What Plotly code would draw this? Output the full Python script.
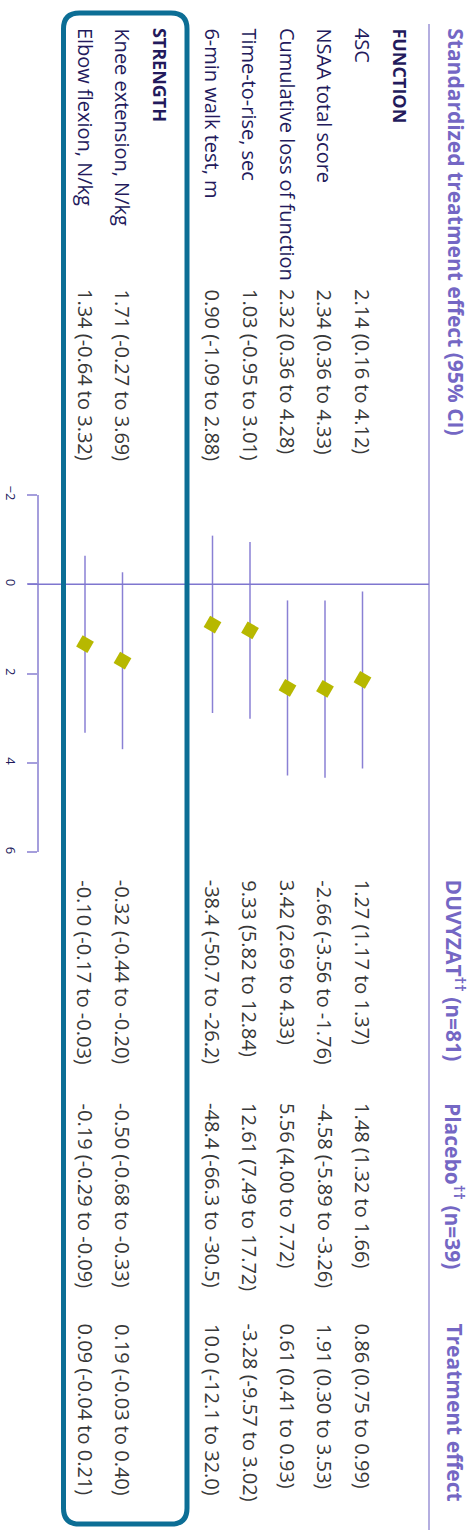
import plotly.graph_objects as go

# chart data
sections = ["FUNCTION", "STRENGTH"]
outcomes = ["4SC", "NSAA total score", "Cumulative loss of function",
            "Time-to-rise, sec", "6-min walk test, m",
            "Knee extension, N/kg", "Elbow flexion, N/kg"]
outcome_section = ["FUNCTION"] * 5 + ["STRENGTH"] * 2

std_effect = [2.14, 2.34, 2.32, 1.03, 0.90, 1.71, 1.34]
std_low = [0.16, 0.36, 0.36, -0.95, -1.09, -0.27, -0.64]
std_high = [4.12, 4.33, 4.28, 3.01, 2.88, 3.69, 3.32]

duvyzat_col = ["1.27 (1.17 to 1.37)", "-2.66 (-3.56 to -1.76)", "3.42 (2.69 to 4.33)",
               "9.33 (5.82 to 12.84)", "-38.4 (-50.7 to -26.2)",
               "-0.32 (-0.44 to -0.20)", "-0.10 (-0.17 to -0.03)"]
placebo_col = ["1.48 (1.32 to 1.66)", "-4.58 (-5.89 to -3.26)", "5.56 (4.00 to 7.72)",
               "12.61 (7.49 to 17.72)", "-48.4 (-66.3 to -30.5)",
               "-0.50 (-0.68 to -0.33)", "-0.19 (-0.29 to -0.09)"]
effect_col = ["0.86 (0.75 to 0.99)", "1.91 (0.30 to 3.53)", "0.61 (0.41 to 0.93)",
              "-3.28 (-9.57 to 3.02)", "10.0 (-12.1 to 32.0)",
              "0.19 (-0.03 to 0.40)", "0.09 (-0.04 to 0.21)"]

headers = ["Standardized treatment effect (95% CI)", "DUVYZAT<sup>††</sup> (n=81)",
           "Placebo<sup>††</sup> (n=39)", "Treatment effect"]
axis_ticks = [-2, 0, 2, 4, 6]

W, H = 471, 1532
FONT = "Open Sans"
PURPLE = "#7467c4"
NAVY = "#231a5c"
GREY = "#383838"
AXIS = "#a59edc"
TEAL = "#0c6e95"


def px_x(p):
    return p / W


def px_y(p):
    return 1 - p / H


# row slots (the chart is turned 90 degrees, rows run right to left)
pos = 0.0
section_pos = {}
row_pos = []
for i, sec in enumerate(sections):
    if i:
        pos += 1.4
    section_pos[sec] = pos
    for s in outcome_section:
        if s == sec:
            pos += 1
            row_pos.append(pos)
header_pos = -1.47

fig = go.Figure()

# CI whiskers + point estimates
fig.add_trace(go.Scatter(
    x=row_pos, y=std_effect, mode="markers",
    marker=dict(symbol="square", size=13, angle=30, color="#b7b800"),
    error_y=dict(type="data", symmetric=False,
                 array=[h - e for h, e in zip(std_high, std_effect)],
                 arrayminus=[e - l for e, l in zip(std_effect, std_low)],
                 width=0, thickness=1.5, color="#8a80d4"),
    cliponaxis=False, showlegend=False, hoverinfo="skip"))

ann = []
# column headers
for txt, top in zip(headers, [17, 875, 1100, 1322]):
    ann.append(dict(x=header_pos, y=px_y(top), text="<b>%s</b>" % txt,
                    font=dict(size=21, color=PURPLE)))
# section headings
for sec in sections:
    ann.append(dict(x=section_pos[sec], y=px_y(17), text="<b>%s</b>" % sec,
                    font=dict(size=18, color=NAVY)))
# row labels and value columns
for i, lab in enumerate(outcomes):
    ann.append(dict(x=row_pos[i], y=px_y(17), text=lab, font=dict(size=20, color=NAVY)))
    est = "%.2f (%.2f to %.2f)" % (std_effect[i], std_low[i], std_high[i])
    ann.append(dict(x=row_pos[i], y=px_y(280), text=est, font=dict(size=20, color=GREY)))
    ann.append(dict(x=row_pos[i], y=px_y(875), text=duvyzat_col[i], font=dict(size=20, color=GREY)))
    ann.append(dict(x=row_pos[i], y=px_y(1100), text=placebo_col[i], font=dict(size=20, color=GREY)))
    ann.append(dict(x=row_pos[i], y=px_y(1322), text=effect_col[i], font=dict(size=20, color=GREY)))
for a in ann:
    a.update(xref="x", yref="paper", xanchor="center", yanchor="top",
             textangle=90, showarrow=False)

# rounded box around the strength block
x0, x1, y0, y1, r = px_x(63.5), px_x(187), px_y(4), px_y(1526), 16
rx, ry = r / W, r / H
box = (f"M {x0 + rx},{y0} L {x1 - rx},{y0} Q {x1},{y0} {x1},{y0 - ry} "
       f"L {x1},{y1 + ry} Q {x1},{y1} {x1 - rx},{y1} "
       f"L {x0 + rx},{y1} Q {x0},{y1} {x0},{y1 + ry} "
       f"L {x0},{y0 - ry} Q {x0},{y0} {x0 + rx},{y0} Z")

shapes = [
    dict(type="line", xref="paper", yref="paper", x0=px_x(429), x1=px_x(429),
         y0=px_y(15), y1=0, line=dict(color="#9b93d6", width=1.5)),
    dict(type="line", xref="paper", yref="y", x0=px_x(28), x1=px_x(429),
         y0=0, y1=0, line=dict(color="#7f76cf", width=1.5)),
    dict(type="path", xref="paper", yref="paper", path=box,
         line=dict(color=TEAL, width=5)),
]

fig.update_layout(
    width=W, height=H, margin=dict(l=0, r=0, t=0, b=0),
    paper_bgcolor="white", plot_bgcolor="rgba(0,0,0,0)",
    font=dict(family=FONT, color=NAVY),
    annotations=ann, shapes=shapes,
    xaxis=dict(range=[400 / 37.5, (400 - W) / 37.5], visible=False, domain=[0, 1]),
    yaxis=dict(range=[6, -2], domain=[px_y(849.5), px_y(489.5)],
               anchor="free", position=px_x(38),
               tickvals=axis_ticks, showline=True, linecolor=AXIS, linewidth=1.5,
               ticks="outside", ticklen=10, tickcolor=AXIS, tickwidth=1.5,
               tickangle=90, tickfont=dict(size=13, color=NAVY),
               ticklabelstandoff=6, showgrid=False, zeroline=False),
)

# page body has a default 8px margin; drop it so the figure fills the window
fig.write_html("out.html", config={"displayModeBar": False},
               post_script="document.body.style.margin='0';")
